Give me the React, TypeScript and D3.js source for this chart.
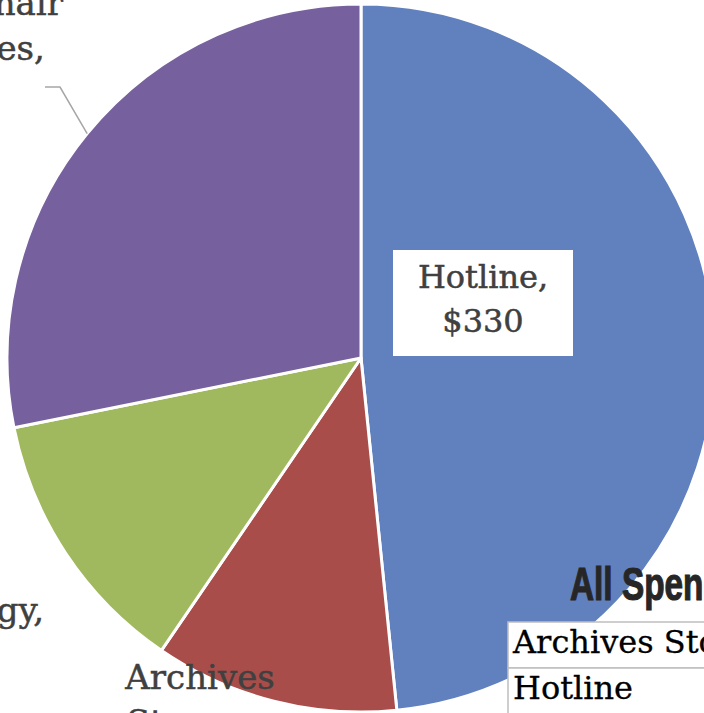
import React, { useEffect, useRef } from "react";
import * as d3 from "d3";

// slice data, clockwise from 12 o'clock
const categories = ["Hotline", "Archives Storage", "Technology", "Board Chair Expenses"];
const values = [330, 76, 84, 192];
const sliceColors = ["#6080BE", "#A84D4A", "#A0B85E", "#76619E"];

// table rows on the right
const tableRows = ["Archives Storage", "Hotline"];

const App = () => {
  const svgRef = useRef(null);
  const width = 704;
  const height = 713;

  useEffect(() => {
    const svg = d3.select(svgRef.current);
    svg.selectAll("*").remove();

    const cx = 361;
    const cy = 358;
    const radius = 354;

    const pie = d3.pie<number>().sort(null).value((d) => d);
    const arcs = pie(values);
    const arc = d3.arc<d3.PieArcDatum<number>>().innerRadius(0).outerRadius(radius);

    const g = svg.append("g").attr("transform", `translate(${cx},${cy})`);

    g.selectAll("path.slice")
      .data(arcs)
      .join("path")
      .attr("class", "slice")
      .attr("d", arc)
      .attr("fill", (d, i) => sliceColors[i])
      .attr("stroke", "#fff")
      .attr("stroke-width", 3)
      .attr("stroke-linejoin", "round");

    const fmt = (v) => "$" + d3.format(",")(v);
    const labelFont = "DejaVu Serif, serif";

    // inside label for Hotline
    const boxW = 180;
    const boxH = 106;
    const lx = 483;
    const ly = 303;
    svg.append("rect")
      .attr("x", lx - boxW / 2)
      .attr("y", ly - boxH / 2)
      .attr("width", boxW)
      .attr("height", boxH)
      .attr("fill", "#fff");
    const t0 = svg.append("text")
      .attr("text-anchor", "middle")
      .attr("font-family", labelFont)
      .attr("font-size", 32)
      .attr("fill", "#404040")
      .attr("stroke", "#404040")
      .attr("stroke-width", 0.5);
    [categories[0] + ",", fmt(values[0])].forEach((s, i) => {
      t0.append("tspan").attr("x", lx).attr("y", ly - 15 + i * 44).text(s);
    });

    // outside labels (positions relative to the page)
    const outside = [
      { x: 200, y: 689, lines: ["Archives", "Storage,", fmt(values[1])] },
      { x: -57, y: 622, lines: ["Technology,", fmt(values[2])] },
      { x: -42, y: 15, lines: ["Board Chair", "Expenses,", fmt(values[3])] },
    ];
    outside.forEach((o) => {
      const t = svg.append("text")
        .attr("text-anchor", "middle")
        .attr("font-family", labelFont)
        .attr("font-size", 34)
        .attr("fill", "#404040")
        .attr("stroke", "#404040")
        .attr("stroke-width", 0.5);
      o.lines.forEach((s, i) => {
        t.append("tspan").attr("x", o.x).attr("y", o.y + i * 45).text(s);
      });
    });

    // leader line for the purple slice, ending on its mid-angle at the rim
    const a3 = arcs[3];
    const mid = (a3.startAngle + a3.endAngle) / 2;
    const ex = cx + Math.sin(mid) * radius;
    const ey = cy - Math.cos(mid) * radius;
    svg.append("polyline")
      .attr("points", `45,87 60,87 ${ex},${ey}`)
      .attr("fill", "none")
      .attr("stroke", "#A6A6A6")
      .attr("stroke-width", 1.5);

    // title
    svg.append("text")
      .attr("transform", "translate(570,600) scale(0.71,1)")
      .attr("font-family", "Liberation Sans, Arial, sans-serif")
      .attr("font-weight", 700)
      .attr("font-size", 47)
      .attr("fill", "#262626")
      .attr("stroke", "#262626")
      .attr("stroke-width", 1.2)
      .text("All Spending");

    // table
    const rowH = 46;
    const tx = 508;
    const ty = 622;
    const rowScale = d3.scaleBand().domain(tableRows).range([ty, ty + rowH * tableRows.length]);
    const rows = svg.selectAll("g.row").data(tableRows).join("g").attr("class", "row");
    rows.append("rect")
      .attr("x", tx)
      .attr("y", (d) => rowScale(d))
      .attr("width", width - tx + 10)
      .attr("height", rowScale.bandwidth())
      .attr("fill", "#fff")
      .attr("stroke", "#BFBFBF")
      .attr("stroke-width", 1.5);
    rows.append("text")
      .attr("x", tx + 5)
      .attr("y", (d) => rowScale(d) + 31)
      .attr("font-family", labelFont)
      .attr("font-size", 32)
      .attr("fill", "#000")
      .attr("stroke", "#000")
      .attr("stroke-width", 0.3)
      .text((d) => d);
  }, []);

  return (
    <svg
      ref={svgRef}
      width={width}
      height={height}
      style={{ position: "absolute", left: 0, top: 0, background: "#fff" }}
    ></svg>
  );
};

export default App;
